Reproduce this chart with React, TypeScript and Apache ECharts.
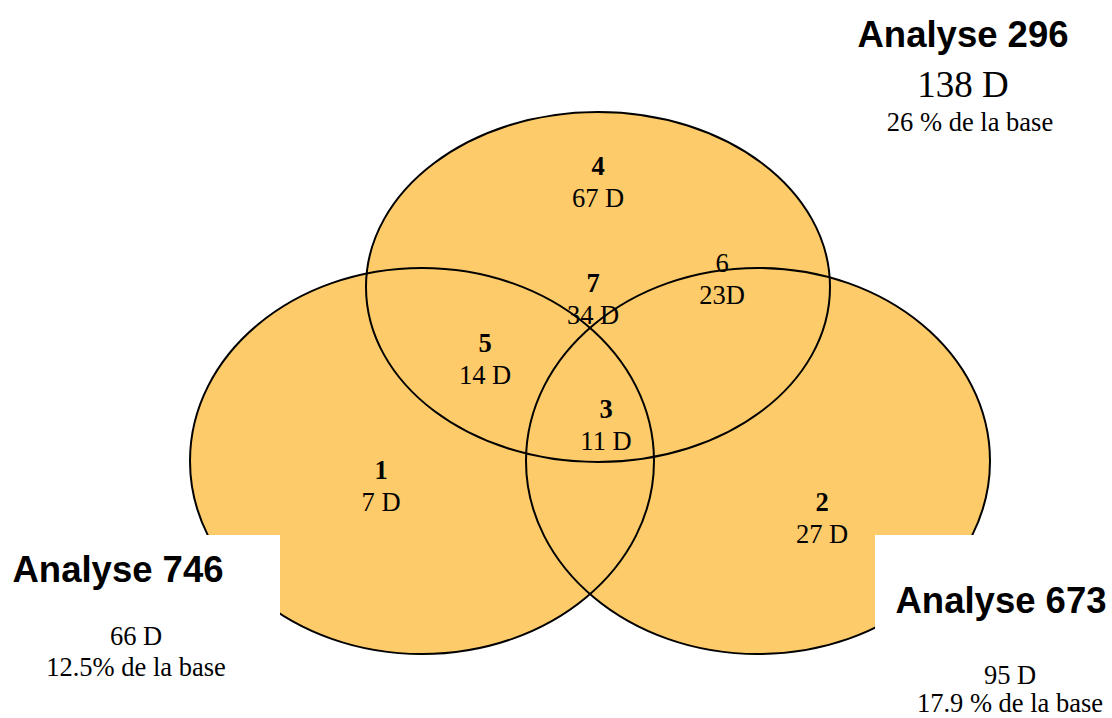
import React, { useEffect, useRef } from "react";
import * as echarts from "echarts";

// Venn regions: id, count label, whether id is bold
const regionIds = ["4", "6", "7", "5", "3", "1", "2"];
const regionCounts = ["67 D", "23D", "34 D", "14 D", "11 D", "7 D", "27 D"];
const regionBold = [true, false, true, true, true, true, true];

// Analyses (sets)
const analyseNames = ["Analyse 296", "Analyse 746", "Analyse 673"];
const analyseCounts = ["138 D", "66 D", "95 D"];
const analysePct = ["26 % de la base", "12.5% de la base", "17.9 % de la base"];

// layout (positions only)
const regionPos = [
  [598, 166], [722, 263], [593, 283], [485, 343], [606, 409], [381, 470], [822, 502],
];
const ellipses = [
  { cx: 598, cy: 287, rx: 232, ry: 175 },
  { cx: 422, cy: 461, rx: 232, ry: 193 },
  { cx: 758, cy: 461, rx: 232, ry: 193 },
];
const FILL = "#FDCB69";
const SERIF = "'Liberation Serif', 'Times New Roman', serif";
const SANS = "'Liberation Sans', Arial, sans-serif";

function txt(text: string, x: number, y: number, size: number, family: string, weight: string, z: number) {
  return {
    type: "text",
    z,
    x,
    y,
    style: {
      text,
      x: 0,
      y: 0,
      textAlign: "center",
      textVerticalAlign: "middle",
      verticalAlign: "middle",
      fontSize: size,
      fontFamily: family,
      fontWeight: weight,
      fill: "#000",
    },
  };
}

export default function App() {
  const ref = useRef<HTMLDivElement>(null);
  useEffect(() => {
    if (!ref.current) return;
    const chart = echarts.init(ref.current, undefined, { renderer: "svg" });
    const els: any[] = [];
    ellipses.forEach((e) =>
      els.push({ type: "ellipse", z: 1, shape: e, style: { fill: FILL, stroke: "none" } })
    );
    ellipses.forEach((e) =>
      els.push({ type: "ellipse", z: 2, shape: e, style: { fill: "none", stroke: "#000", lineWidth: 2 } })
    );
    els.push({ type: "rect", z: 3, shape: { x: 0, y: 535, width: 280, height: 200 }, style: { fill: "#fff" } });
    els.push({ type: "rect", z: 3, shape: { x: 875, y: 535, width: 260, height: 200 }, style: { fill: "#fff" } });

    regionIds.forEach((id, i) => {
      const [x, y] = regionPos[i];
      els.push(txt(id, x, y, 26.5, SERIF, regionBold[i] ? "bold" : "normal", 5));
      els.push(txt(regionCounts[i], x, y + 32, 26.5, SERIF, "normal", 5));
    });

    // Analyse 296
    els.push(txt(analyseNames[0], 963, 34, 36.5, SANS, "bold", 5));
    els.push(txt(analyseCounts[0], 963, 84, 37, SERIF, "normal", 5));
    els.push(txt(analysePct[0], 970, 122, 26.5, SERIF, "normal", 5));
    // Analyse 746
    els.push(txt(analyseNames[1], 118, 569, 36.5, SANS, "bold", 5));
    els.push(txt(analyseCounts[1], 136, 636, 26.5, SERIF, "normal", 5));
    els.push(txt(analysePct[1], 136, 667, 26.5, SERIF, "normal", 5));
    // Analyse 673
    els.push(txt(analyseNames[2], 1001, 600, 36.5, SANS, "bold", 5));
    els.push(txt(analyseCounts[2], 1010, 675, 26.5, SERIF, "normal", 5));
    els.push(txt(analysePct[2], 1010, 703, 26.5, SERIF, "normal", 5));

    chart.setOption({ animation: false, backgroundColor: "#fff", graphic: { elements: els } });
    return () => chart.dispose();
  }, []);
  return (
    <div
      ref={ref}
      style={{ position: "absolute", left: 0, top: 0, width: 1112, height: 718 }}
    />
  );
}
